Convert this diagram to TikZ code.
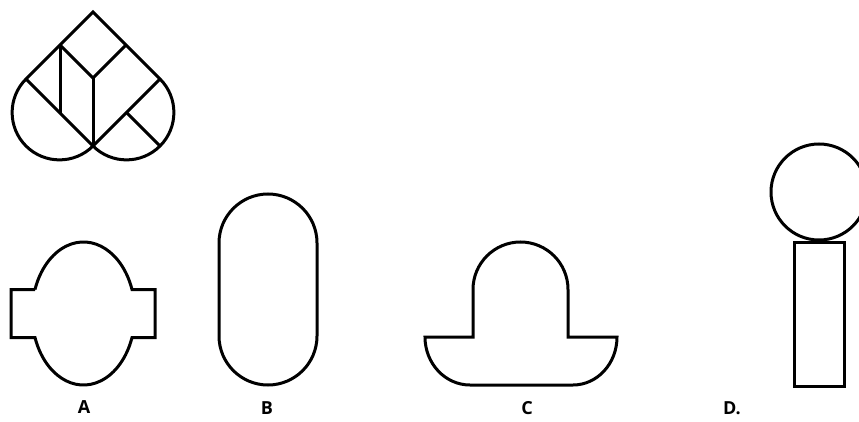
\documentclass[tikz,border=0pt]{standalone}
\usepackage{fontspec}
\setmainfont{Open Sans}
\begin{document}
\begin{tikzpicture}[x=1pt,y=1pt,
  shape line/.style={draw=black,line width=3pt,line join=miter},
  letter/.style={font=\fontsize{18}{20}\selectfont\bfseries,inner sep=0pt,anchor=center}]
\useasboundingbox (0,0) rectangle (859,421);
\begin{scope}
\clip (0,0) rectangle (859,421);
% Heart / leaf figure
\draw[shape line] (93,409) -- (26,342) arc[start angle=135,end angle=315,radius=47.38]
  arc[start angle=225,end angle=405,radius=47.38] -- cycle;
\draw[shape line] (26,342) -- (93,275) -- (160,342);
\draw[shape line] (60,376) -- (60,308);
\draw[shape line] (60,376) -- (93,343) -- (126,376);
\draw[shape line] (93,343) -- (93,275);
\draw[shape line] (126.5,308.5) -- (160,275);
% A
\draw[shape line] (35,131.5) -- (11,131.5) -- (11,83.5) -- (35,83.5)
  arc[start angle=199.6,end angle=340.4,x radius=51.5,y radius=71.5]
  -- (155,83.5) -- (155,131.5) -- (132,131.5)
  arc[start angle=19.6,end angle=160.4,x radius=51.5,y radius=71.5] -- cycle;
% B
\draw[shape line] (219,178) -- (219,85) arc[start angle=180,end angle=360,radius=49]
  -- (317,178) arc[start angle=0,end angle=180,radius=49] -- cycle;
% C
\draw[shape line] (473,84) -- (425,84)
  arc[start angle=180,end angle=270,x radius=45,y radius=48]
  -- (573,36) arc[start angle=270,end angle=360,x radius=44,y radius=48]
  -- (568,84) -- (568,131.5) arc[start angle=0,end angle=180,radius=47.5] -- cycle;
% D
\draw[shape line] (819,229) circle[radius=48];
\draw[shape line] (794,35) rectangle (844,179);
\end{scope}
\node[letter] (la) at (84,14) {A};
\node[letter] (lb) at (267,13) {B};
\node[letter] (lc) at (527,13) {C};
\node[letter] (ld) at (732,13) {D.};
\end{tikzpicture}
\end{document}
